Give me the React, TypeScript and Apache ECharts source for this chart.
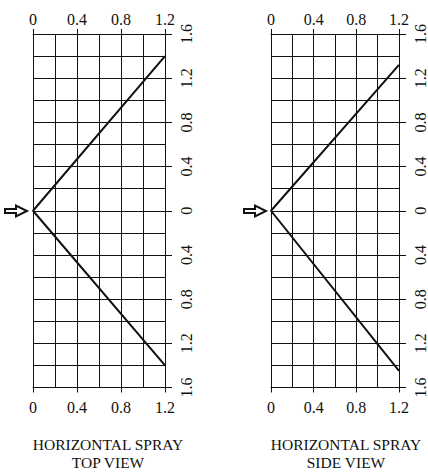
import React, { useEffect, useRef } from "react";
import * as echarts from "echarts";

const xMin = 0;
const xMax = 1.2;
const yMin = -1.6;
const yMax = 1.6;
const majorStep = 0.4;
const topViewX = [1.2, 0, 1.2];
const topViewY = [1.4, 0, -1.4];
const sideViewX = [1.2, 0, 1.2];
const sideViewY = [1.32, 0, -1.45];
const titleLine1 = ["HORIZONTAL SPRAY", "HORIZONTAL SPRAY"];
const titleLine2 = ["TOP VIEW", "SIDE VIEW"];

const FONT = "'Liberation Serif', 'Times New Roman', serif";
const INK = "#111";

const fmt = (v: number) => String(Math.round(Math.abs(v) * 10) / 10);

export default function App() {
  const ref = useRef<HTMLDivElement>(null);
  useEffect(() => {
    if (!ref.current) return;
    const chart = echarts.init(ref.current, null, { renderer: "svg" });
    const lineStyle = { color: INK, width: 1 };
    const grids = [
      { left: 33, top: 34, width: 132, height: 353.5 },
      { left: 271, top: 34, width: 133, height: 353.5 },
    ];
    const xAxes: any[] = [];
    const yAxes: any[] = [];
    grids.forEach((_, gi) => {
      ["top", "bottom"].forEach((pos) => {
        xAxes.push({
          type: "value",
          gridIndex: gi,
          position: pos,
          min: xMin,
          max: xMax,
          interval: majorStep,
          axisLine: { show: true, onZero: false, lineStyle },
          axisTick: { show: true, inside: false, length: 5, lineStyle },
          axisLabel: {
            margin: pos === "top" ? 7 : 12,
            fontFamily: FONT,
            fontSize: 16,
            color: INK,
            formatter: fmt,
          },
          splitLine: { show: pos === "top", lineStyle },
          minorTick: { show: false, splitNumber: 2 },
          minorSplitLine: { show: pos === "top", lineStyle },
        });
      });
      yAxes.push({
        type: "value",
        gridIndex: gi,
        position: "right",
        min: yMin,
        max: yMax,
        interval: majorStep,
        axisLine: { show: true, onZero: false, lineStyle },
        axisTick: { show: true, inside: false, length: 7, lineStyle },
        axisLabel: {
          rotate: 90,
          margin: 13,
          fontFamily: FONT,
          fontSize: 16,
          color: INK,
          formatter: fmt,
        },
        splitLine: { show: true, lineStyle },
        minorTick: { show: false, splitNumber: 2 },
        minorSplitLine: { show: true, lineStyle },
      });
    });
    const mk = (xs: number[], ys: number[]) => xs.map((x, i) => [x, ys[i]]);
    const arrow = (x0: number) => ({
      type: "polygon",
      shape: {
        points: [
          [x0, 209],
          [x0 + 11, 209],
          [x0 + 11, 205.5],
          [x0 + 22, 211],
          [x0 + 11, 216.5],
          [x0 + 11, 213],
          [x0, 213],
        ],
      },
      style: { fill: "#fff", stroke: INK, lineWidth: 2 },
    });
    const titleText = (x: number, y: number, text: string) => ({
      type: "text",
      x,
      y,
      style: {
        text,
        align: "center",
        verticalAlign: "middle",
        fontFamily: FONT,
        fontSize: 15.5,
        fill: INK,
      },
    });
    chart.setOption({
      animation: false,
      backgroundColor: "#fff",
      grid: grids,
      xAxis: xAxes,
      yAxis: yAxes,
      series: [
        {
          type: "line",
          xAxisIndex: 0,
          yAxisIndex: 0,
          data: mk(topViewX, topViewY),
          symbol: "none",
          lineStyle: { color: INK, width: 2 },
          z: 5,
        },
        {
          type: "line",
          xAxisIndex: 2,
          yAxisIndex: 1,
          data: mk(sideViewX, sideViewY),
          symbol: "none",
          lineStyle: { color: INK, width: 2 },
          z: 5,
        },
      ],
      graphic: [
        arrow(5),
        arrow(244),
        titleText(108, 444, titleLine1[0]),
        titleText(108, 462, titleLine2[0]),
        titleText(346, 444, titleLine1[1]),
        titleText(346, 462, titleLine2[1]),
      ],
    });
    return () => chart.dispose();
  }, []);
  return (
    <div
      ref={ref}
      style={{ position: "absolute", left: 0, top: 0, width: 428, height: 472 }}
    />
  );
}
